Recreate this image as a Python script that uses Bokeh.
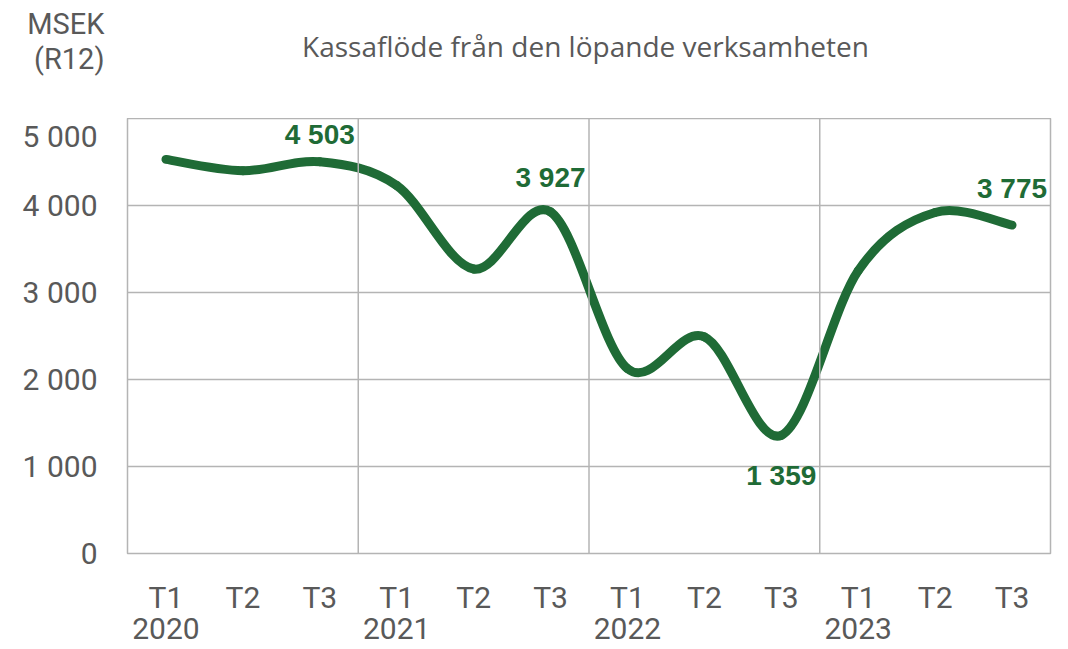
from bokeh.plotting import figure
from bokeh.layouts import column
from bokeh.models import (Range1d, ColumnDataSource, Span, LinearAxis,
                          FixedTicker, CustomJSTickFormatter)
from bokeh.core.properties import value
from bokeh.embed import file_html
from bokeh.resources import INLINE

# ---- data ----
years = ["2020", "2021", "2022", "2023"]
periods = ["T1", "T2", "T3"]
cash_flow = [4530, 4400, 4503, 4230, 3270, 3927, 2125, 2490, 1359, 3250, 3920, 3775]
labeled_idx = [2, 5, 8, 11]
y_ticks = [0, 1000, 2000, 3000, 4000, 5000]
title_text = "Kassaflöde från den löpande verksamheten"
unit_lines = ["MSEK", "(R12)"]

# ---- styles ----
label_offsets = [-27, -34, 40, -37]
GREEN = "#1f6b36"
GREY_TXT = "#595959"
GRID = "#b4b4b4"
AX_FONT = "Roboto"
TITLE_FONT = "Open Sans"
W, H_TOP, H_MAIN = 1068, 118, 531
LEFT, RIGHT = 127, 18

n = len(cash_flow)
npg = len(periods)
xs = [i + 0.5 for i in range(n)]
tick_text = {xs[i]: periods[i % npg] for i in range(n)}
year_ticks = [xs[k * npg] for k in range(len(years))]
year_text = {year_ticks[k]: years[k] for k in range(len(years))}

# ---------- header (title + unit) ----------
head = figure(width=W, height=H_TOP,
              x_range=Range1d(LEFT, W - RIGHT), y_range=Range1d(H_TOP, 0),
              x_axis_type=None, y_axis_type=None,
              min_border_left=LEFT, min_border_right=RIGHT,
              min_border_top=0, min_border_bottom=0,
              output_backend="svg", toolbar_location=None)
head.outline_line_color = None
head.grid.visible = False
head.background_fill_color = "white"
head.border_fill_color = "white"
head.text(x=[585], y=[45], text=[title_text],
          text_font=value(TITLE_FONT), text_font_size="28px", text_color=GREY_TXT,
          text_align="center", text_baseline="alphabetic")
unit_pos = [23, 58]
unit_axis = LinearAxis(ticker=FixedTicker(ticks=unit_pos),
                       major_label_overrides={unit_pos[i]: unit_lines[i] for i in range(2)},
                       axis_line_color=None, major_tick_line_color=None,
                       minor_tick_line_color=None, major_tick_out=0, major_tick_in=0,
                       major_label_standoff=23, major_label_text_font=AX_FONT,
                       major_label_text_font_size="29px", major_label_text_color=GREY_TXT)
head.add_layout(unit_axis, "left")

# ---------- main chart ----------
p = figure(x_range=Range1d(0, n), y_range=Range1d(0, 5000),
           width=W, height=H_MAIN,
           min_border_left=LEFT, min_border_right=RIGHT,
           min_border_top=0, min_border_bottom=96,
           output_backend="svg", toolbar_location=None)
p.background_fill_color = "white"
p.border_fill_color = "white"
p.outline_line_color = GRID
p.outline_line_width = 1.5

# grid
p.xgrid.visible = False
p.ygrid.ticker = FixedTicker(ticks=y_ticks)
p.ygrid.grid_line_color = GRID
p.ygrid.grid_line_width = 1.5
for k in range(1, len(years)):
    p.add_layout(Span(location=k * npg, dimension="height",
                      line_color=GRID, line_width=1.5))

# axes
p.yaxis.ticker = FixedTicker(ticks=y_ticks)
p.yaxis.formatter = CustomJSTickFormatter(code="""
    return tick.toLocaleString('en-US').replace(/,/g, ' ');
""")
p.yaxis.axis_line_color = None
p.yaxis.major_tick_line_color = None
p.yaxis.minor_tick_line_color = None
p.yaxis.major_tick_out = 0
p.yaxis.major_tick_in = 0
p.yaxis.major_label_standoff = 30
p.yaxis.major_label_text_font = AX_FONT
p.yaxis.major_label_text_font_size = "30px"
p.yaxis.major_label_text_color = GREY_TXT


def style_x(ax, standoff):
    ax.axis_line_color = None
    ax.major_tick_line_color = None
    ax.minor_tick_line_color = None
    ax.major_tick_out = 0
    ax.major_tick_in = 0
    ax.major_label_standoff = standoff
    ax.major_label_text_font = AX_FONT
    ax.major_label_text_font_size = "30px"
    ax.major_label_text_color = GREY_TXT


p.xaxis.ticker = FixedTicker(ticks=xs)
p.xaxis.major_label_overrides = tick_text
style_x(p.xaxis[0], 26)

year_axis = LinearAxis(ticker=FixedTicker(ticks=year_ticks),
                       major_label_overrides=year_text)
style_x(year_axis, 0)
p.add_layout(year_axis, "below")

# smooth curve (Catmull-Rom style bezier through the data points)
x0, y0, x1, y1, cx0, cy0, cx1, cy1 = [], [], [], [], [], [], [], []
for i in range(n - 1):
    pxm, pym = (xs[i - 1], cash_flow[i - 1]) if i > 0 else (xs[i], cash_flow[i])
    pxp, pyp = (xs[i + 2], cash_flow[i + 2]) if i + 2 < n else (xs[i + 1], cash_flow[i + 1])
    x0.append(xs[i]); y0.append(cash_flow[i])
    x1.append(xs[i + 1]); y1.append(cash_flow[i + 1])
    cx0.append(xs[i] + (xs[i + 1] - pxm) / 6); cy0.append(cash_flow[i] + (cash_flow[i + 1] - pym) / 6)
    cx1.append(xs[i + 1] - (pxp - xs[i]) / 6); cy1.append(cash_flow[i + 1] - (pyp - cash_flow[i]) / 6)
src = ColumnDataSource(dict(x0=x0, y0=y0, x1=x1, y1=y1, cx0=cx0, cy0=cy0, cx1=cx1, cy1=cy1))
p.bezier(x0="x0", y0="y0", x1="x1", y1="y1", cx0="cx0", cy0="cy0", cx1="cx1", cy1="cy1",
         source=src, line_color=GREEN, line_width=9, line_cap="round")

# data labels
lab_src = ColumnDataSource(dict(
    x=[xs[i] for i in labeled_idx],
    y=[cash_flow[i] for i in labeled_idx],
    t=[f"{cash_flow[i]:,}".replace(",", " ") for i in labeled_idx],
    off=label_offsets))
p.text(x="x", y="y", text="t", y_offset="off", source=lab_src,
       text_font=value("Liberation Sans"), text_font_style="bold",
       text_font_size="28px", text_color=GREEN,
       text_align="center", text_baseline="middle")

layout = column(head, p, spacing=0)
open("out.html", "w").write(file_html(layout, INLINE))
